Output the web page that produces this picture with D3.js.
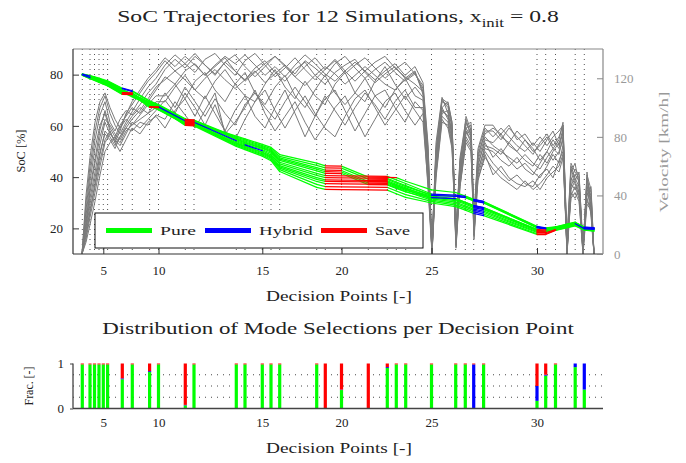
<!DOCTYPE html>
<html><head><meta charset="utf-8">
<script src="https://cdn.jsdelivr.net/npm/d3@7"></script>
<style>body{margin:0;background:#fff}</style>
</head><body><svg id="c" width="686" height="463"></svg>
<script>
// ---------- DATA ----------
const dpPos = [0.93,1.70,2.15,2.60,3.03,3.46,4.93,5.93,7.66,8.55,11.23,12.10,16.33,17.20,18.93,19.80,20.67,24.37,25.23,26.85,29.53,31.43,32.33,33.27,35.85,38.27,39.23,40.07,41.06,46.40,47.27,48.25,50.22,51.13];
const routeEnd = 52.1;
const xTickDps = [5,10,15,20,25,30];
const socTicks = [20,40,60,80];
const velTicks = [0,40,80,120];
const fracTicks = [0,1];
const modeNames = ["Pure","Hybrid","Save"];

const socSim01 = [80.3,79.6,79.1,78.6,78.1,77.6,74.7,73.7,69.8,68.3,62.8,61.2,56.0,54.9,52.8,51.6,48.8,45.5,44.4,44.3,40.0,39.9,39.8,38.4,35.0,34.0,32.6,31.3,30.5,20.8,20.2,20.6,22.4,20.5,20.3];
const socSim02 = [80.2,79.5,79.0,78.4,77.9,77.4,74.5,73.4,69.6,68.1,62.5,62.3,55.6,54.5,52.3,51.1,48.1,44.6,43.6,43.5,39.2,39.1,37.7,36.3,33.0,32.6,32.1,30.8,30.0,20.4,19.9,20.4,22.2,20.3,20.1];
const socSim03 = [80.2,79.4,78.8,78.3,77.7,77.2,74.2,72.4,69.3,67.8,62.3,62.1,55.2,54.1,51.9,50.6,47.5,43.7,42.7,42.6,38.3,38.2,36.8,35.4,32.6,31.6,30.2,28.9,28.1,19.6,18.7,20.0,21.9,20.0,19.6];
const socSim04 = [80.1,79.3,78.7,78.2,77.6,77.1,74.0,72.2,69.1,67.6,62.1,61.9,54.9,53.7,51.5,50.2,47.0,43.1,42.1,42.0,37.7,37.6,36.2,34.8,32.2,31.2,29.8,28.5,27.7,19.4,18.5,19.9,21.8,19.9,19.5];
const socSim05 = [80.1,79.2,78.6,78.0,77.5,76.9,73.9,72.1,68.9,67.4,61.9,61.7,54.6,53.4,51.2,49.8,46.5,42.4,41.5,41.4,37.1,37.0,35.6,34.2,31.8,30.8,29.4,28.1,27.3,19.1,19.0,20.1,22.0,20.1,19.9];
const socSim06 = [80.0,79.1,78.5,77.9,77.3,76.7,73.6,71.8,68.6,67.1,61.6,61.4,54.2,53.0,50.7,49.3,45.8,41.5,40.6,40.5,40.4,40.3,38.9,37.5,33.4,33.0,32.5,31.2,30.4,20.6,20.0,20.5,22.3,20.4,20.2];
const socSim07 = [80.0,78.9,78.3,77.7,77.1,76.5,73.4,71.6,68.4,66.9,61.4,61.2,53.8,52.6,50.3,48.7,45.2,40.7,39.8,39.7,39.6,39.5,38.1,36.7,32.9,32.5,32.0,30.7,29.9,20.2,19.7,20.3,22.1,20.2,20.0];
const socSim08 = [79.9,78.8,78.2,77.6,76.9,76.3,73.1,71.3,68.1,66.6,61.1,60.9,53.4,52.2,49.8,48.2,44.5,39.8,38.9,38.8,38.7,38.6,37.2,35.8,32.0,31.6,30.2,28.9,28.1,19.5,19.4,20.2,22.0,20.1,19.9];
const socSim09 = [79.9,78.7,78.1,77.4,76.8,76.2,73.0,72.9,67.9,66.4,60.9,60.7,53.1,51.9,49.5,47.8,44.0,39.1,38.3,38.2,38.1,38.0,36.6,35.2,31.5,30.2,28.8,27.5,26.7,18.7,18.6,19.9,21.7,19.8,19.6];
const socSim10 = [79.8,78.6,78.0,77.3,76.7,76.0,72.8,72.7,67.7,66.2,60.7,60.5,52.8,51.5,49.1,47.4,43.5,38.3,37.5,37.4,37.3,37.2,35.8,34.4,31.0,29.7,28.3,27.0,26.2,18.4,18.3,19.5,21.4,19.6,19.2];
const socSim11 = [79.8,78.5,77.8,77.2,76.5,75.8,72.5,72.4,67.5,67.4,60.5,60.3,52.4,51.1,48.7,46.9,42.9,37.2,36.3,36.2,36.1,36.0,34.6,33.2,30.5,29.1,27.7,26.4,25.6,17.9,17.9,19.3,21.2,19.4,19.0];
const socSim12 = [79.7,78.4,77.7,77.0,76.3,75.6,72.3,72.2,67.2,67.1,60.2,60.0,52.0,50.7,48.2,46.4,42.2,36.0,35.2,35.1,35.0,34.9,33.5,32.1,29.9,28.5,27.1,25.8,25.0,17.6,17.6,19.2,21.0,19.3,18.9];

const modesAtDp = ["PPHPPPPHPPPP","PPPPPPPPPPPP","PPPPPPPPPPPP","PPPPPPPPPPPP","PPPPPPPPPPPP","PPPPPPPPPPPP",
  "HHPPPPPPSSSS","PPPPPPPPPPPP","PPPPPPPPPPSS","PPPPHPPPPPPP","PSSSSSSSSSSS","PPPPPHPPPPPP",
  "PPPPPPPPPPPP","PPPPPPHPPPPP","PPPPPPPPPPPP","PPPPPPPPPPPP","PPPPPPPPPPPP","PPPPPPPPPPPP",
  "SSSSSSSSSSSS","PPPPPSSSSSSS","SSSSSSSSSSSS","SPPPPPPPPPPP","PPPPPPPPPPPP","PPPPPPPPPPPP",
  "PPPPPHHHPPPP","PHPPPHHPPPPP","PPPPPPPPPPPP","HHHHHHHHHHHH","PPPPPPPPPPPP","HHPPSHHSSSSS",
  "PPPPPPPPPSSS","PPPPPPPPPPPP","PPPHPPPPPPPP","HHPPHHHHHPPP"];

const velPos = [0.9,1.3,1.7,2.2,2.7,3.2,3.7,4.2,4.7,5.3,5.9,6.7,7.5,8.3,9.2,10.2,11.2,12.2,13.2,14.2,15.2,16.2,17.2,18.2,19.2,20.2,21.2,22.2,23.2,24.2,25.2,26.2,27.2,28.2,29.2,30.2,31.2,32.2,33.2,34.2,35.0,35.5,35.9,36.3,36.9,37.5,37.9,38.3,38.7,39.3,39.8,40.1,40.5,41.2,42.0,42.8,43.6,44.4,45.2,46.0,46.7,47.4,48.0,48.6,49.0,49.4,49.8,50.2,50.6,51.0,51.4,51.8,52.1];
const velSim01 = [0,30,55,78,95,104,90,84,92,98,95,102,110,116, 126,133,127,135,129,122,131,136,128,121,128,135,129,123,132,127,121,130,135,127,120,126,131,124,118,123,113,70, 3,70,105,100,86,12,62,90,82,22,66,84, 84,78,86,80,74,68,76,82,74,80,88,4,56,62,48,2,50,42,0];
const velSim02 = [0,22,45,65,85,98,86,80,88,94,100,96,104,112, 121,116,125,130,122,128,134,125,119,127,132,124,118,126,131,122,116,124,129,133,124,117,123,128,120,125,109,60, 0,62,100,104,90,8,56,86,88,16,60,78, 76,82,74,70,78,72,64,70,78,72,84,0,50,58,54,6,44,38,0];
const velSim03 = [0,35,60,84,100,108,96,88,82,90,97,106,114,120, 129,136,130,124,133,137,129,122,132,137,129,121,127,134,126,119,126,133,125,118,125,131,135,127,121,116,111,65, 5,76,107,96,82,15,66,92,80,26,72,88, 88,80,76,84,78,70,74,80,72,78,90,8,60,52,46,0,56,30,0];
const velSim04 = [0,18,38,56,75,90,82,78,86,92,88,95,102,108, 108,116,106,118,124,112,104,116,124,110,102,114,122,108,100,112,122,110,102,110,120,108,100,112,120,108,105,55, 0,56,98,94,84,5,50,82,86,14,56,74, 72,68,76,70,64,60,68,62,70,76,82,2,46,54,50,4,40,46,0];
const velSim05 = [0,26,50,72,88,96,84,76,84,96,102,110,118,124, 132,125,130,137,129,123,131,125,118,124,130,135,128,121,128,134,126,132,123,129,134,127,120,126,131,123,115,72, 8,68,104,102,88,18,60,94,84,24,70,86, 80,86,80,74,70,76,70,78,84,74,86,6,58,50,56,2,52,36,0];
const velSim06 = [0,14,30,48,68,84,80,74,80,88,94,100,96,104, 104,114,122,112,106,118,126,116,108,104,116,126,114,106,118,108,102,116,124,110,104,118,128,116,106,114,107,58, 2,60,96,98,80,10,54,84,76,18,58,72, 70,64,60,66,58,54,62,70,64,70,78,0,44,50,42,8,46,40,0];
const velSim07 = [0,40,66,90,104,110,100,92,86,95,104,112,120,126, 134,128,135,129,122,129,135,130,136,129,122,128,121,129,136,130,123,118,125,131,125,119,125,130,122,128,117,75, 6,72,106,103,90,14,64,88,90,20,68,82, 86,82,88,78,82,74,80,74,80,84,88,10,62,56,52,0,54,44,0];
const velSim08 = [0,20,42,62,80,92,88,82,78,86,92,98,106,114, 119,125,119,112,120,126,119,113,119,125,117,123,129,121,115,122,128,123,116,122,128,122,116,112,119,124,111,62, 0,64,100,92,78,6,52,86,80,12,62,76, 66,72,64,58,62,56,52,60,68,62,74,2,48,44,48,4,42,34,0];
const velSim09 = [0,10,25,42,60,76,82,78,74,82,90,86,92,98, 105,96,110,100,88,102,84,98,108,94,86,100,112,96,80,94,106,112,98,84,96,108,112,100,90,104,98,50, 4,58,94,90,76,12,48,80,74,20,54,70, 62,56,50,54,48,46,54,58,52,64,70,0,40,46,38,0,38,28,0];
const velSim10 = [0,16,34,52,70,82,78,72,80,86,84,90,88,95, 92,104,95,86,98,110,82,90,100,112,96,84,94,104,90,78,88,100,108,94,80,92,104,110,98,88,96,45, 0,52,90,88,74,4,46,78,72,10,52,66, 58,52,48,44,50,44,48,54,60,56,66,4,42,38,44,6,36,32,0];
const velSim11 = [0,8,20,36,54,70,76,80,76,84,88,92,96,100, 110,100,114,104,94,106,96,88,102,110,100,92,104,114,104,94,108,98,88,100,110,102,92,104,112,100,100,54, 10,66,98,94,82,16,58,84,78,24,64,80, 74,70,66,62,68,62,58,66,72,68,80,0,52,48,40,2,48,26,0];
const velSim12 = [0,12,28,46,64,78,84,76,70,78,86,82,90,94, 86,98,106,94,108,96,84,78,92,104,112,98,86,98,108,96,86,80,94,106,112,100,88,98,108,98,90,48, 2,54,92,86,72,8,46,76,70,14,50,68, 54,60,52,48,46,50,44,52,56,60,68,6,38,42,36,0,34,30,0];

const fracPure   = [0.98,0.98,0.98,0.98,0.98,0.98,0.65,0.98,0.81,0.98,0.07,0.98,0.98,0.98,0.98,0.98,0.98,0.98,0,0.41,0,0.90,0.98,0.98,0.98,0.98,0.98,0,0.98,0.17,0.73,0.98,0.92,0.42];
const fracHybrid = [0,0,0,0,0,0,0.02,0,0.02,0,0.01,0,0,0,0,0,0,0,0,0.01,0,0.02,0,0,0,0,0,0.98,0,0.33,0.02,0,0.08,0.58];
const fracSave   = [0.02,0.02,0.02,0.02,0.02,0.02,0.33,0.02,0.17,0.02,0.92,0.02,0.02,0.02,0.02,0.02,0.02,0.02,1,0.58,1,0.08,0.02,0.02,0.02,0.02,0.02,0.02,0.02,0.50,0.25,0.02,0,0];

// ---------- DRAW ----------
const svg = d3.select("#c");
function fontAvailable(name){
  const t = svg.append("text").attr("font-size",40).attr("font-family",`'${name}', monospace`).text("Sample wxyz 0123 Mode");
  const w1 = t.node().getComputedTextLength();
  t.attr("font-family","monospace");
  const w2 = t.node().getComputedTextLength();
  t.remove();
  return Math.abs(w1-w2) > 0.5;
}
const FONT = (["DejaVu Serif","Liberation Serif","Noto Serif"].find(fontAvailable) || "serif");

function label(parent, cx, cy, str, size, target, opts={}){
  const t = parent.append("text").attr("font-family",FONT).attr("font-size",size)
    .attr("text-anchor", opts.anchor || "middle").attr("fill", opts.fill || "#222");
  if (typeof str === "function") str(t); else t.text(str);
  const w = t.node().getBBox().width;
  const k = target ? target / w : 1;
  t.attr("transform", `translate(${cx},${cy})` + (opts.rotate ? ` rotate(${opts.rotate})` : "") + ` scale(${k},1)`);
  return t;
}

const socSims = [socSim01,socSim02,socSim03,socSim04,socSim05,socSim06,socSim07,socSim08,socSim09,socSim10,socSim11,socSim12];
const velSims = [velSim01,velSim02,velSim03,velSim04,velSim05,velSim06,velSim07,velSim08,velSim09,velSim10,velSim11,velSim12];
const modeColor = {P:"#00ff00", H:"#0000ff", S:"#ff0000"};

const L=73, R=603, T=49, B=254, BT=363.5, BB=408.5;
const x = d3.scaleLinear().domain([0,53]).range([L,R]);
const ySoc = d3.scaleLinear().domain([10,90]).range([B,T]);
const yVel = d3.scaleLinear().domain([0,140]).range([B,T]);
const yFrac = d3.scaleLinear().domain([0,1]).range([BB,BT]);

svg.append("defs").append("clipPath").attr("id","clipTop")
  .append("rect").attr("x",L).attr("y",T).attr("width",R-L).attr("height",B-T);

label(svg, 338, 22, t=>{
  t.append("tspan").text("SoC Trajectories for 12 Simulations, x");
  t.append("tspan").attr("font-size",12).attr("dy",4.5).text("init");
  t.append("tspan").attr("dy",-4.5).text(" = 0.8");
}, 17, 442);

const gTop = svg.append("g");
gTop.selectAll("line.dp").data(dpPos).join("line")
  .attr("x1",d=>x(d)).attr("x2",d=>x(d)).attr("y1",T).attr("y2",B)
  .attr("stroke","#333").attr("stroke-width",0.85).attr("stroke-dasharray","1,4");

const plotG = gTop.append("g").attr("clip-path","url(#clipTop)");
const velLine = d3.line().x((d,i)=>x(velPos[i])).y(d=>yVel(d));
plotG.selectAll("path.vel").data(velSims).join("path")
  .attr("d",velLine).attr("fill","none").attr("stroke","#7a7a7a").attr("stroke-width",1);

const segs = [];
const socPos = dpPos.concat([routeEnd]);
socSims.forEach((s,k)=>{
  for(let i=0;i<s.length-1;i++){
    segs.push({x1:socPos[i],x2:socPos[i+1],y1:s[i],y2:s[i+1],m:modesAtDp[i][k]});
  }
});
const order = {P:0,H:1,S:2};
segs.sort((a,b)=>order[a.m]-order[b.m]);
plotG.selectAll("line.soc").data(segs).join("line")
  .attr("x1",d=>x(d.x1)).attr("x2",d=>x(d.x2)).attr("y1",d=>ySoc(d.y1)).attr("y2",d=>ySoc(d.y2))
  .attr("stroke",d=>modeColor[d.m]).attr("stroke-width",1.25).attr("stroke-linecap","round");

svg.append("line").attr("x1",L).attr("x2",R).attr("y1",T).attr("y2",T).attr("stroke","#888").attr("stroke-width",1.2);
svg.append("line").attr("x1",L).attr("x2",R).attr("y1",B).attr("y2",B).attr("stroke","#333").attr("stroke-width",1.2);
svg.append("line").attr("x1",L).attr("x2",L).attr("y1",T).attr("y2",B).attr("stroke","#333").attr("stroke-width",1.2);
svg.append("line").attr("x1",R).attr("x2",R).attr("y1",T).attr("y2",B).attr("stroke","#888").attr("stroke-width",1.2);

const axL = svg.append("g").attr("transform",`translate(${L},0)`)
  .call(d3.axisLeft(ySoc).tickValues(socTicks).tickSize(-6).tickPadding(10));
const axR = svg.append("g").attr("transform",`translate(${R},0)`)
  .call(d3.axisRight(yVel).tickValues(velTicks).tickSize(-6).tickPadding(11));
const axB = svg.append("g").attr("transform",`translate(0,${B})`)
  .call(d3.axisBottom(x).tickValues(xTickDps.map(d=>dpPos[d-1])).tickFormat((d,i)=>xTickDps[i]).tickSize(-6).tickPadding(12));
[axL,axR,axB].forEach(a=>{a.select(".domain").remove(); a.attr("font-family",FONT); a.selectAll("text").attr("font-size",13);});
axL.selectAll("line").attr("stroke","#333");
axB.selectAll("line").attr("stroke","#333");
axL.selectAll("text").attr("fill","#222");
axB.selectAll("text").attr("fill","#222");
axR.selectAll("line").attr("stroke","#888");
axR.selectAll("text").attr("fill","#999");

label(svg, 25, 151, "SoC [%]", 12, 43, {rotate:-90});
label(svg, 668, 152, "Velocity [km/h]", 13, 121, {rotate:-90, fill:"#999"});
label(svg, 339, 301, "Decision Points [-]", 14, 146);

const lg = svg.append("g");
lg.append("rect").attr("x",95).attr("y",213).attr("width",328).attr("height",35)
  .attr("fill","#fff").attr("stroke","#111").attr("stroke-width",1);
const legX = [106,205,321];
const legW = [36,54,35];
modeNames.forEach((n,i)=>{
  const c = ["#00ff00","#0000ff","#ff0000"][i];
  lg.append("line").attr("x1",legX[i]).attr("x2",legX[i]+46).attr("y1",230.5).attr("y2",230.5)
    .attr("stroke",c).attr("stroke-width",5);
  label(lg, legX[i]+54, 235, n, 13.5, legW[i], {anchor:"start"});
});

label(svg, 338, 334, "Distribution of Mode Selections per Decision Point", 17, 472);

svg.selectAll("line.fg").data([0.25,0.5,0.75]).join("line")
  .attr("x1",L).attr("x2",R).attr("y1",d=>yFrac(d)).attr("y2",d=>yFrac(d))
  .attr("stroke","#333").attr("stroke-width",0.9).attr("stroke-dasharray","1,5");

const stackData = dpPos.map((p,i)=>({p, P:fracPure[i], H:fracHybrid[i], S:fracSave[i]}));
const stack = d3.stack().keys(["P","H","S"])(stackData);
svg.append("g").selectAll("g").data(stack).join("g")
  .attr("fill",d=>modeColor[d.key])
  .selectAll("rect").data(d=>d).join("rect")
  .attr("x",d=>x(d.data.p)-1.6).attr("width",3.2)
  .attr("y",d=>yFrac(d[1])).attr("height",d=>Math.max(0,yFrac(d[0])-yFrac(d[1])));

svg.append("line").attr("x1",L).attr("x2",R).attr("y1",BB).attr("y2",BB).attr("stroke","#444").attr("stroke-width",1.3);
svg.append("line").attr("x1",L).attr("x2",L).attr("y1",BT).attr("y2",BB).attr("stroke","#444").attr("stroke-width",1.3);
const bL = svg.append("g").attr("transform",`translate(${L},0)`)
  .call(d3.axisLeft(yFrac).tickValues(fracTicks).tickFormat(d3.format("d")).tickSize(3).tickPadding(6));
const bB = svg.append("g").attr("transform",`translate(0,${BB})`)
  .call(d3.axisBottom(x).tickValues(xTickDps.map(d=>dpPos[d-1])).tickFormat((d,i)=>xTickDps[i]).tickSize(0).tickPadding(9));
[bL,bB].forEach(a=>{a.select(".domain").remove(); a.attr("font-family",FONT); a.selectAll("text").attr("font-size",13).attr("fill","#222"); a.selectAll("line").attr("stroke","#444");});
label(svg, 33, 386, "Frac. [-]", 12, 39, {rotate:-90});
label(svg, 339, 453, "Decision Points [-]", 14, 146);
</script>
</body></html>
